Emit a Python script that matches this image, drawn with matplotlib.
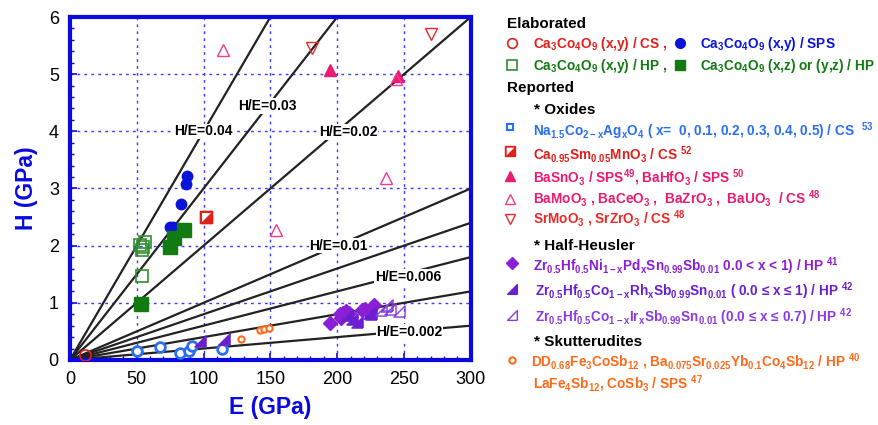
import numpy as np
import matplotlib
matplotlib.use("Agg")
import matplotlib.pyplot as plt
from matplotlib.ticker import MultipleLocator

plt.rcParams['font.family'] = ['Liberation Sans', 'DejaVu Sans']
plt.rcParams['mathtext.fontset'] = 'custom'
plt.rcParams['mathtext.rm'] = 'Liberation Sans'
plt.rcParams['mathtext.bf'] = 'Liberation Sans:bold'
plt.rcParams['mathtext.default'] = 'bf'

# ---------------- data (E in GPa, H in GPa) ----------------
ratios = [0.04, 0.03, 0.02, 0.01, 0.008, 0.006, 0.004, 0.002]
ratio_labels = ["H/E=0.04", "H/E=0.03", "H/E=0.02", "H/E=0.01", "H/E=0.006", "H/E=0.002"]
ratio_label_E = [100, 148, 208, 201, 253, 254]
ratio_label_H = [4.0, 4.44, 3.99, 2.0, 1.46, 0.49]

cs_E = [11.5]
cs_H = [0.08]
sps_E = [87.5, 86.8, 82.8, 74.5, 77.0]
sps_H = [3.22, 3.08, 2.72, 2.32, 2.32]
hp_open_E = [52.5, 56.3, 53.7, 54.5, 53.7]
hp_open_H = [2.01, 2.07, 1.92, 1.97, 1.47]
hp_full_E = [53.5, 74.5, 77.5, 85.7]
hp_full_H = [0.98, 1.98, 2.14, 2.28]

na_E = [50, 67.7, 82, 88.8, 91.3, 113.7]
na_H = [0.15, 0.23, 0.12, 0.16, 0.25, 0.19]
casm_E = [101.7]
casm_H = [2.5]
basno_E = [194.5, 245.5]
basno_H = [5.07, 4.97]
bamo_E = [114.5, 154.3, 236.3, 243.8]
bamo_H = [5.42, 2.28, 3.19, 4.91]
srmo_E = [181.3, 270]
srmo_H = [5.45, 5.71]

pd_E = [194.5, 202.5, 204, 206.7, 209, 202, 220.5, 227.5, 218.8]
pd_H = [0.64, 0.74, 0.82, 0.86, 0.82, 0.80, 0.89, 0.97, 0.87]
rh_E = [97.5, 115, 215, 211, 225, 223.7, 207.5]
rh_H = [0.33, 0.36, 0.67, 0.72, 0.80, 0.82, 0.78]
ir_E = [232.5, 236.3, 239.5, 246.3, 237]
ir_H = [0.87, 0.94, 0.89, 0.85, 0.97]
sk_E = [128, 142.5, 145.5, 148.8]
sk_H = [0.37, 0.52, 0.54, 0.56]

# ---------------- colours ----------------
c_axis = '#0a0ae0'
c_red = '#e0201a'
c_blue = '#0a14d8'
c_green = '#117a11'
c_na = '#2a6ff0'
c_pink = '#ec1a70'
c_pink2 = '#f03c8c'
c_srmo = '#ea2a2a'
c_pd = '#8b1fd6'
c_rh = '#6a1ed0'
c_ir = '#8a3ae0'
c_orange = '#ff6a1a'

fig = plt.figure(figsize=(8.79, 4.25), dpi=100)
ax = fig.add_axes([0.0796, 0.153, 0.456, 0.807])

E_line = np.array([0, 300])
for r in ratios:
    ax.plot(E_line, r * E_line, color='#222222', lw=1.6, zorder=2)

for lab, xe, yh in zip(ratio_labels, ratio_label_E, ratio_label_H):
    ax.text(xe, yh, lab, fontsize=10, fontweight='bold', ha='center', va='center', zorder=3,
            bbox=dict(facecolor='white', edgecolor='none', pad=0.5))

# elaborated
ax.plot(cs_E, cs_H, 'o', ms=8, mfc='none', mec=c_red, mew=1.2, zorder=5)
ax.plot(sps_E, sps_H, 'o', ms=7.5, color=c_blue, zorder=5)
ax.plot(hp_open_E, hp_open_H, 's', ms=8.5, mfc='none', mec='#2f8f2f', mew=1.2, zorder=5)
ax.plot(hp_full_E, hp_full_H, 's', ms=9.5, color=c_green, zorder=5)

# reported oxides
ax.plot(na_E, na_H, 'o', ms=7, mfc='white', mec=c_na, mew=2, zorder=5)
half_tri = [(-1, 1), (1, 1), (-1, -1), (-1, 1)]
ax.plot(casm_E, casm_H, 's', ms=8, color=c_red, zorder=5)
ax.plot(casm_E, casm_H, marker=half_tri, ms=6.5, mfc='white', mec='none', ls='none', zorder=6)
ax.plot(casm_E, casm_H, 's', ms=8, mfc='none', mec=c_red, mew=1, zorder=7)
ax.plot(basno_E, basno_H, '^', ms=8.5, color=c_pink, zorder=5)
ax.plot(bamo_E, bamo_H, '^', ms=8.5, mfc='none', mec=c_pink2, mew=1, zorder=5)
ax.plot(srmo_E, srmo_H, 'v', ms=8.5, mfc='none', mec=c_srmo, mew=1, zorder=5)

# half-heusler
right_tri = [(1, -1), (1, 1), (-1, -1), (1, -1)]
ax.plot(pd_E, pd_H, 'D', ms=7, color=c_pd, zorder=5)
ax.plot(rh_E, rh_H, marker=right_tri, ms=8, color=c_rh, ls='none', zorder=5)
ax.plot(ir_E, ir_H, marker=right_tri, ms=8, mfc='none', mec=c_ir, mew=1, ls='none', zorder=5)

# skutterudites
ax.plot(sk_E, sk_H, 'o', ms=4.5, mfc='white', mec=c_orange, mew=1.5, zorder=5)

ax.set_xlim(0, 300)
ax.set_ylim(0, 6)
ax.xaxis.set_major_locator(MultipleLocator(50))
ax.xaxis.set_minor_locator(MultipleLocator(10))
ax.yaxis.set_major_locator(MultipleLocator(1))
ax.yaxis.set_minor_locator(MultipleLocator(0.2))
ax.tick_params(which='both', direction='in', colors=c_axis, labelcolor='black', labelsize=13)
ax.tick_params(which='major', length=5, width=1.2, pad=8)
ax.tick_params(which='minor', length=3, width=1)
ax.tick_params(top=False, right=False)
ax.grid(True, which='major', color='#3a3aff', ls=(0, (2, 3)), lw=1)
for sp in ax.spines.values():
    sp.set_color(c_axis)
    sp.set_linewidth(3)
ax.set_xlabel('E (GPa)', fontsize=16.5, fontweight='bold', color=c_axis, labelpad=6)
ax.set_ylabel('H (GPa)', fontsize=16.5, fontweight='bold', color=c_axis, labelpad=8)

# ---------------- legend block on the right ----------------
W, H = 879.0, 425.0


def fx(px):
    return px / W


def fy(py):
    return 1 - py / H


def head(px, py, s):
    fig.text(fx(px), fy(py), s, fontsize=11, fontweight='bold', va='center', ha='left')


def entry(py, s, col, px=533, size=9.8):
    fig.text(fx(px), fy(py), s, fontsize=size, fontweight='bold', color=col, va='center', ha='left')


def mark(px, py, **kw):
    fig.lines.append(plt.Line2D([fx(px)], [fy(py)], transform=fig.transFigure, ls='none', **kw))


head(507, 24, 'Elaborated')
mark(512, 43, marker='o', ms=7, mfc='none', mec=c_red, mew=1.2)
entry(44, r'Ca$_3$Co$_4$O$_9$ (x,y) / CS ,', c_red)
mark(680, 43, marker='o', ms=7, color=c_blue)
entry(44, r'Ca$_3$Co$_4$O$_9$ (x,y) / SPS', c_blue, px=700)
mark(512, 65, marker='s', ms=7, mfc='none', mec='#2f8f2f', mew=1.2)
entry(66, r'Ca$_3$Co$_4$O$_9$ (x,y) / HP ,', c_green)
mark(680, 65, marker='s', ms=7, color=c_green)
entry(66, r'Ca$_3$Co$_4$O$_9$ (x,z) or (y,z) / HP', c_green, px=700)
head(507, 88, 'Reported')
head(534, 110, '* Oxides')
mark(510, 127, marker='s', ms=5, mfc='white', mec=c_na, mew=1.5)
entry(131, r'Na$_{1.5}$Co$_{2-x}$Ag$_x$O$_4$ ( x=  0, 0.1, 0.2, 0.3, 0.4, 0.5) / CS  ${}^{53}$', c_na)
mark(510, 151, marker='s', ms=7, color=c_red)
mark(510, 151, marker=half_tri, ms=5.5, mfc='white', mec='none')
entry(154, r'Ca$_{0.95}$Sm$_{0.05}$MnO$_3$ / CS ${}^{52}$', c_red)
mark(510, 176, marker='^', ms=7, color=c_pink)
entry(178, r'BaSnO$_3$ / SPS${}^{49}$, BaHfO$_3$ / SPS ${}^{50}$', c_pink)
mark(510, 199, marker='^', ms=7, mfc='none', mec=c_pink2, mew=1)
entry(199, r'BaMoO$_3$ , BaCeO$_3$ ,  BaZrO$_3$ ,  BaUO$_3$  / CS ${}^{48}$', c_pink)
mark(510, 219, marker='v', ms=7, mfc='none', mec=c_srmo, mew=1)
entry(219, r'SrMoO$_3$ , SrZrO$_3$ / CS ${}^{48}$', c_srmo)
head(534, 246, '* Half-Heusler')
mark(512, 263, marker='D', ms=6, color=c_pd)
entry(266, r'Zr$_{0.5}$Hf$_{0.5}$Ni$_{1-x}$Pd$_x$Sn$_{0.99}$Sb$_{0.01}$ 0.0 < x < 1) / HP ${}^{41}$', c_pd)
mark(512, 289, marker=right_tri, ms=7, color=c_rh)
entry(291, r'Zr$_{0.5}$Hf$_{0.5}$Co$_{1-x}$Rh$_x$Sb$_{0.99}$Sn$_{0.01}$ ( 0.0 ≤ x ≤ 1) / HP ${}^{42}$', c_rh, px=535)
mark(512, 315, marker=right_tri, ms=7, mfc='none', mec=c_ir, mew=1)
entry(317, r'Zr$_{0.5}$Hf$_{0.5}$Co$_{1-x}$Ir$_x$Sb$_{0.99}$Sn$_{0.01}$ (0.0 ≤ x ≤ 0.7) / HP ${}^{42}$', c_ir, px=535)
head(534, 342, '* Skutterudites')
mark(512, 360, marker='o', ms=4.5, mfc='white', mec=c_orange, mew=1.5)
entry(362, r'DD$_{0.68}$Fe$_3$CoSb$_{12}$ , Ba$_{0.075}$Sr$_{0.025}$Yb$_{0.1}$Co$_4$Sb$_{12}$ / HP ${}^{40}$', c_orange, px=531)
entry(384, r'LaFe$_4$Sb$_{12}$, CoSb$_3$ / SPS ${}^{47}$', c_orange)

fig.savefig('out.png', dpi=100)
